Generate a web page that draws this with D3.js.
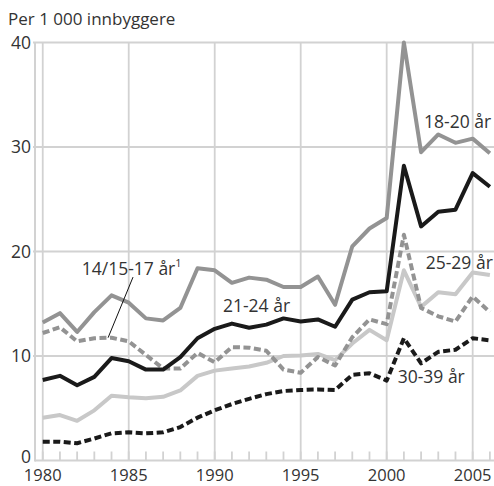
<!DOCTYPE html>
<html>
<head>
<meta charset="utf-8">
<script src="https://cdn.jsdelivr.net/npm/d3@7.9.0/dist/d3.min.js"></script>
<style>
  body { margin: 0; background: #fff; }
  svg { display: block; font-family: "Open Sans", "Noto Sans", sans-serif; }
</style>
</head>
<body>
<svg id="chart" width="494" height="486"></svg>
<script>
const years = d3.range(1980, 2007);

// Per 1 000 innbyggere
const age1820 = [13.2, 14.1, 12.3, 14.2, 15.8, 15.1, 13.6, 13.4, 14.6, 18.4, 18.2, 17.0, 17.5, 17.3, 16.6, 16.6, 17.6, 14.9, 20.5, 22.2, 23.2, 40.0, 29.5, 31.2, 30.4, 30.8, 29.4];
const age2124 = [7.7, 8.1, 7.2, 8.0, 9.8, 9.5, 8.7, 8.7, 9.9, 11.7, 12.6, 13.1, 12.7, 13.0, 13.6, 13.3, 13.5, 12.8, 15.4, 16.1, 16.2, 28.2, 22.4, 23.8, 24.0, 27.5, 26.2];
const age2529 = [4.1, 4.35, 3.8, 4.8, 6.2, 6.05, 5.95, 6.1, 6.7, 8.1, 8.6, 8.8, 9.0, 9.35, 10.0, 10.05, 10.2, 9.6, 11.2, 12.5, 11.5, 18.2, 14.7, 16.1, 15.9, 18.0, 17.75];
const age1417 = [12.2, 12.75, 11.4, 11.7, 11.75, 11.4, 10.1, 8.8, 8.8, 10.3, 9.4, 10.85, 10.8, 10.5, 8.7, 8.4, 9.9, 9.1, 11.8, 13.5, 13.05, 21.6, 14.6, 13.8, 13.3, 15.7, 14.2];
const age3039 = [1.8, 1.8, 1.65, 2.1, 2.6, 2.7, 2.6, 2.7, 3.2, 4.1, 4.8, 5.4, 5.9, 6.35, 6.65, 6.75, 6.8, 6.75, 8.2, 8.35, 7.65, 11.7, 9.3, 10.4, 10.6, 11.7, 11.5];

const yTicks = [0, 10, 20, 30, 40];
const xLabelYears = [1980, 1985, 1990, 1995, 2000, 2005];

const series = [
  { name: "25-29 år", values: age2529, color: "#c8c8c8", dash: null },
  { name: "30-39 år", values: age3039, color: "#1a1a1a", dash: "7,3.5" },
  { name: "18-20 år", values: age1820, color: "#939393", dash: null },
  { name: "14/15-17 år", values: age1417, color: "#939393", dash: "7,3.5" },
  { name: "21-24 år", values: age2124, color: "#1a1a1a", dash: null }
];

const svg = d3.select("#chart");
const x = d3.scaleLinear().domain([1979.55, 2006.24]).range([35, 494]);
const y = d3.scaleLinear().domain([0, 40]).range([460.5, 42.5]);
const gridColor = "#d2d2d2";
const textColor = "#333";

// grid
svg.append("g").selectAll("line").data(yTicks.slice(1)).join("line")
  .attr("x1", 33).attr("x2", 494)
  .attr("y1", d => y(d)).attr("y2", d => y(d))
  .attr("stroke", gridColor).attr("stroke-width", 1.8);

svg.append("g").selectAll("line").data(xLabelYears).join("line")
  .attr("x1", d => x(d)).attr("x2", d => x(d))
  .attr("y1", y(40)).attr("y2", y(0))
  .attr("stroke", gridColor).attr("stroke-width", 1.8);

// axes
svg.append("line")
  .attr("x1", x.range()[0]).attr("x2", x.range()[0])
  .attr("y1", y(40)).attr("y2", y(0) + 1)
  .attr("stroke", gridColor).attr("stroke-width", 2);
svg.append("line")
  .attr("x1", x.range()[0]).attr("x2", 494)
  .attr("y1", y(0)).attr("y2", y(0))
  .attr("stroke", gridColor).attr("stroke-width", 2);

svg.append("g").selectAll("line").data(years).join("line")
  .attr("x1", d => x(d)).attr("x2", d => x(d))
  .attr("y1", y(0)).attr("y2", y(0) - 9)
  .attr("stroke", gridColor).attr("stroke-width", 1.8);

// tick labels
svg.append("g").selectAll("text").data(yTicks).join("text")
  .attr("x", 31).attr("y", d => d === 0 ? y(d) - 4 : y(d))
  .attr("dy", "0.36em")
  .attr("text-anchor", "end")
  .attr("font-size", 17.5).attr("fill", textColor)
  .text(d => d);

svg.append("g").selectAll("text").data(xLabelYears).join("text")
  .attr("x", d => x(d)).attr("y", 481)
  .attr("text-anchor", "middle")
  .attr("font-size", 16.5).attr("fill", textColor)
  .text(d => d);

svg.append("text")
  .attr("x", 8).attr("y", 25)
  .attr("font-size", 17).attr("fill", textColor)
  .text("Per 1 000 innbyggere");

// lines
const line = d3.line().x((d, i) => x(years[i])).y(d => y(d));

svg.append("g").selectAll("path").data(series).join("path")
  .attr("d", d => line(d.values))
  .attr("fill", "none")
  .attr("stroke", d => d.color)
  .attr("stroke-width", 4)
  .attr("stroke-linejoin", "round")
  .attr("stroke-dasharray", d => d.dash);

// labels
const labelFont = 17.5;
const addLabel = (txt, yr, v) => svg.append("text")
  .attr("x", x(yr)).attr("y", y(v))
  .attr("font-size", labelFont).attr("fill", textColor)
  .text(txt);

addLabel("18-20 år", 2002.17, 31.85);
addLabel("21-24 år", 1990.48, 14.2);
addLabel("25-29 år", 2002.27, 18.35);
addLabel("30-39 år", 2000.64, 7.37);

const lbl = svg.append("text")
  .attr("x", x(1982.27)).attr("y", y(17.75))
  .attr("font-size", labelFont).attr("fill", textColor);
lbl.append("tspan").text("14/15-17 år");
lbl.append("tspan").attr("font-size", 11).attr("dy", -8).text("1");

svg.append("line")
  .attr("x1", x(1985.25)).attr("y1", y(17.55))
  .attr("x2", x(1983.8)).attr("y2", y(11.75))
  .attr("stroke", "#111").attr("stroke-width", 1);
</script>
</body>
</html>
